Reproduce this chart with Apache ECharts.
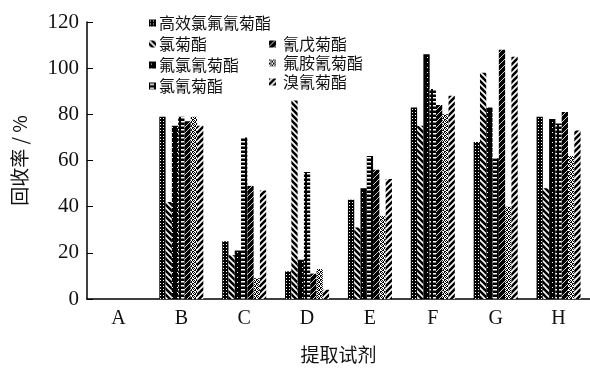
<!DOCTYPE html>
<html>
<head>
<meta charset="utf-8">
<script src="https://cdn.jsdelivr.net/npm/echarts@6/dist/echarts.min.js"></script>
<style>
  html, body { margin: 0; padding: 0; background: #fff; }
  #chart { width: 590px; height: 369px; }
</style>
</head>
<body>
<div id="chart"></div>
<script>
// Extraction reagents on the x axis
const categories = ['A', 'B', 'C', 'D', 'E', 'F', 'G', 'H'];

// Pesticide names (legend order)
const seriesNames = ['高效氯氟氰菊酯', '氯菊酯', '氟氯氰菊酯', '氯氰菊酯', '氰戊菊酯', '氟胺氰菊酯', '溴氰菊酯'];

// Recovery (%) per reagent, one array per pesticide
const lambdaCyhalothrin = [0, 79, 25, 12, 43, 83, 68, 79];
const permethrin        = [0, 42, 19, 86, 31, 75, 98, 48];
const cyfluthrin        = [0, 75, 21, 17, 48, 106, 83, 78];
const cypermethrin      = [0, 79, 70, 55, 62, 91, 61, 76];
const fenvalerate       = [0, 77, 49, 11, 56, 84, 108, 81];
const fluvalinate       = [0, 79, 9, 13, 36, 80, 40, 62];
const deltamethrin      = [0, 75, 47, 4, 52, 88, 105, 73];

const seriesValues = [lambdaCyhalothrin, permethrin, cyfluthrin, cypermethrin, fenvalerate, fluvalinate, deltamethrin];

const yTicks = { min: 0, max: 120, interval: 20 };

// Monochrome fill patterns for the bars
function tile(w, h, draw) {
  const c = document.createElement('canvas');
  c.width = w; c.height = h;
  const g = c.getContext('2d');
  draw(g, w, h);
  return { image: c, repeat: 'repeat' };
}
const patterns = [
  // white dots on black
  tile(3, 3, (g) => { g.fillStyle = '#000'; g.fillRect(0, 0, 3, 3); g.fillStyle = '#fff'; g.fillRect(1, 1, 1, 1); }),
  // white back-slashes on black
  tile(6, 6, (g) => {
    g.fillStyle = '#000'; g.fillRect(0, 0, 6, 6);
    g.strokeStyle = '#fff'; g.lineWidth = 1.6;
    g.beginPath(); g.moveTo(-1, -1); g.lineTo(7, 7); g.moveTo(-7, -1); g.lineTo(1, 7); g.moveTo(5, -1); g.lineTo(13, 7); g.stroke();
  }),
  // near-solid black with sparse specks
  tile(5, 5, (g) => { g.fillStyle = '#000'; g.fillRect(0, 0, 5, 5); g.fillStyle = '#fff'; g.fillRect(2, 2, 1, 1); }),
  // white horizontal dashes on black
  tile(6, 4, (g) => { g.fillStyle = '#000'; g.fillRect(0, 0, 6, 4); g.fillStyle = '#fff'; g.fillRect(1, 1, 4, 1.5); }),
  // black with thin white diagonals
  tile(6, 6, (g) => {
    g.fillStyle = '#000'; g.fillRect(0, 0, 6, 6);
    g.strokeStyle = '#fff'; g.lineWidth = 0.8;
    g.beginPath(); g.moveTo(-1, 7); g.lineTo(7, -1); g.stroke();
  }),
  // light checker
  tile(4, 4, (g) => {
    g.fillStyle = '#fff'; g.fillRect(0, 0, 4, 4); g.fillStyle = '#000';
    g.fillRect(0, 0, 1, 1); g.fillRect(2, 0, 1, 1); g.fillRect(1, 1, 1, 1); g.fillRect(3, 1, 1, 1);
    g.fillRect(0, 3, 2, 1); g.fillRect(2, 2, 2, 1);
  }),
  // black forward slashes on white
  tile(6, 6, (g) => {
    g.fillStyle = '#fff'; g.fillRect(0, 0, 6, 6);
    g.strokeStyle = '#000'; g.lineWidth = 2.6;
    g.beginPath(); g.moveTo(-1, 7); g.lineTo(7, -1); g.moveTo(-7, 7); g.lineTo(1, -1); g.moveTo(5, 7); g.lineTo(13, -1); g.stroke();
  })
];

const serif = '"Liberation Serif", "DejaVu Serif", serif';
const cjk = '"Noto Sans CJK SC", sans-serif';

const series = seriesNames.map((name, i) => ({
  name: name,
  type: 'bar',
  data: seriesValues[i],
  barGap: '0%',
  barCategoryGap: '30%',
  itemStyle: { color: patterns[i] }
}));

const chart = echarts.init(document.getElementById('chart'), null, { renderer: 'canvas' });
chart.setOption({
  animation: false,
  backgroundColor: '#fff',
  grid: { left: 87, right: 0, top: 22, bottom: 64, containLabel: false },
  legend: [
    {
      data: seriesNames.slice(0, 4),
      orient: 'vertical', left: 144, top: 10, itemGap: 5,
      itemWidth: 7, itemHeight: 7, icon: 'rect',
      textStyle: { fontFamily: cjk, fontSize: 16, color: '#111', padding: [0, 0, 0, -2] }
    },
    {
      data: seriesNames.slice(4),
      orient: 'vertical', left: 264, top: 31, itemGap: 3,
      itemWidth: 7, itemHeight: 7, icon: 'rect',
      textStyle: { fontFamily: cjk, fontSize: 16, color: '#111', padding: [0, 0, 0, 2] }
    }
  ],
  xAxis: {
    type: 'category',
    data: categories,
    name: '提取试剂',
    nameLocation: 'middle',
    nameGap: 46,
    nameTextStyle: { fontFamily: cjk, fontSize: 19, color: '#111' },
    axisLine: { lineStyle: { color: '#000', width: 1.5 } },
    axisTick: { show: false },
    axisLabel: { fontFamily: serif, fontSize: 20, color: '#111', margin: 10 }
  },
  yAxis: {
    type: 'value',
    min: yTicks.min, max: yTicks.max, interval: yTicks.interval,
    name: '回收率 / %',
    nameLocation: 'middle',
    nameGap: 58,
    nameRotate: 90,
    nameTextStyle: { fontFamily: cjk, fontSize: 19, color: '#111' },
    axisLine: { show: true, lineStyle: { color: '#000', width: 1.5 } },
    axisTick: { show: true, inside: true, length: 6, lineStyle: { color: '#000' } },
    axisLabel: { fontFamily: serif, fontSize: 21, color: '#111', margin: 8 },
    splitLine: { show: false }
  },
  series: series
});
</script>
</body>
</html>
